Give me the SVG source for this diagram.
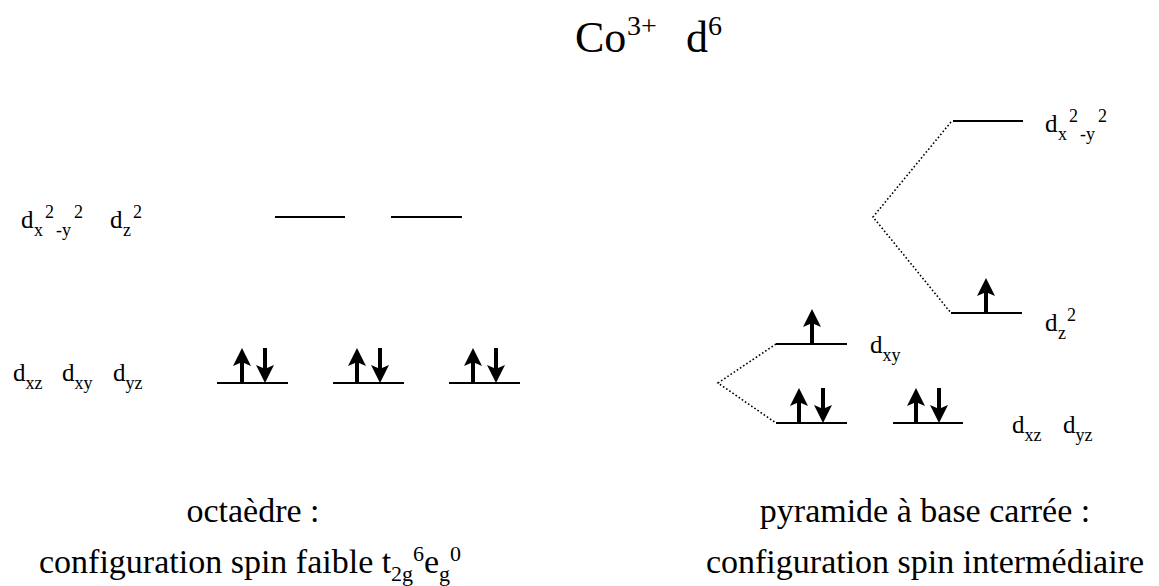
<svg xmlns="http://www.w3.org/2000/svg" width="1159" height="586" viewBox="0 0 1159 586">
<rect width="1159" height="586" fill="#fff"/>

<g id="title">
<text x="575" y="52" font-size="44" font-family="Liberation Serif">Co</text>
<text x="627" y="35" font-size="28" font-family="Liberation Serif">3+</text>
<text x="686" y="52" font-size="44" font-family="Liberation Serif">d</text>
<text x="708" y="35" font-size="28" font-family="Liberation Serif">6</text>
</g>

<g id="connectors" stroke="#000" stroke-width="1.6" stroke-dasharray="1.6 2.2" fill="none">
<polyline points="951,122 873,217 951,313"/>
<polyline points="776,344 718,383 776,423"/>
</g>

<g id="oct-eg-label">
<text x="21" y="228" font-size="25" font-family="Liberation Serif">d</text>
<text x="34" y="236" font-size="18" font-family="Liberation Serif">x</text>
<text x="45" y="218" font-size="18" font-family="Liberation Serif">2</text>
<text x="56" y="236" font-size="18" font-family="Liberation Serif">-y</text>
<text x="74" y="218" font-size="18" font-family="Liberation Serif">2</text>
<text x="110" y="228" font-size="25" font-family="Liberation Serif">d</text>
<text x="123" y="236" font-size="18" font-family="Liberation Serif">z</text>
<text x="133" y="218" font-size="18" font-family="Liberation Serif">2</text>
</g>
<g id="oct-eg-1"><line x1="275" y1="217" x2="345" y2="217" stroke="#000" stroke-width="2"/></g>
<g id="oct-eg-2"><line x1="391" y1="217" x2="462" y2="217" stroke="#000" stroke-width="2"/></g>

<g id="oct-t2g-label">
<text x="13" y="381" font-size="25" font-family="Liberation Serif">d</text>
<text x="25.5" y="389" font-size="18" font-family="Liberation Serif">xz</text>
<text x="62" y="381" font-size="25" font-family="Liberation Serif">d</text>
<text x="74.5" y="389" font-size="18" font-family="Liberation Serif">xy</text>
<text x="113" y="381" font-size="25" font-family="Liberation Serif">d</text>
<text x="125.5" y="389" font-size="18" font-family="Liberation Serif">yz</text>
</g>
<g id="oct-t2g-1">
<line x1="217" y1="383" x2="288" y2="383" stroke="#000" stroke-width="2"/>
<path d="M242,348 L251,366 L244,363 L244,383 L240,383 L240,363 L233,366 Z" fill="#000"/>
<path d="M265,383 L274,365 L267,368 L267,348 L263,348 L263,368 L256,365 Z" fill="#000"/>
</g>
<g id="oct-t2g-2">
<line x1="333" y1="383" x2="404" y2="383" stroke="#000" stroke-width="2"/>
<path d="M357,348 L366,366 L359,363 L359,383 L355,383 L355,363 L348,366 Z" fill="#000"/>
<path d="M380,383 L389,365 L382,368 L382,348 L378,348 L378,368 L371,365 Z" fill="#000"/>
</g>
<g id="oct-t2g-3">
<line x1="449" y1="383" x2="520" y2="383" stroke="#000" stroke-width="2"/>
<path d="M473,348 L482,366 L475,363 L475,383 L471,383 L471,363 L464,366 Z" fill="#000"/>
<path d="M496,383 L505,365 L498,368 L498,348 L494,348 L494,368 L487,365 Z" fill="#000"/>
</g>

<g id="py-dx2y2">
<line x1="953" y1="121" x2="1023" y2="121" stroke="#000" stroke-width="2"/>
<text x="1045" y="132" font-size="25" font-family="Liberation Serif">d</text>
<text x="1058" y="140" font-size="18" font-family="Liberation Serif">x</text>
<text x="1069" y="122" font-size="18" font-family="Liberation Serif">2</text>
<text x="1080" y="140" font-size="18" font-family="Liberation Serif">-y</text>
<text x="1098" y="122" font-size="18" font-family="Liberation Serif">2</text>
</g>
<g id="py-dz2">
<line x1="951" y1="313" x2="1022" y2="313" stroke="#000" stroke-width="2"/>
<path d="M986,278 L995,296 L988,293 L988,313 L984,313 L984,293 L977,296 Z" fill="#000"/>
<text x="1045" y="331" font-size="25" font-family="Liberation Serif">d</text>
<text x="1058" y="339" font-size="18" font-family="Liberation Serif">z</text>
<text x="1067" y="321" font-size="18" font-family="Liberation Serif">2</text>
</g>
<g id="py-dxy">
<line x1="776" y1="344" x2="847" y2="344" stroke="#000" stroke-width="2"/>
<path d="M812,309 L821,327 L814,324 L814,344 L810,344 L810,324 L803,327 Z" fill="#000"/>
<text x="870" y="353" font-size="25" font-family="Liberation Serif">d</text>
<text x="882.5" y="361" font-size="18" font-family="Liberation Serif">xy</text>
</g>
<g id="py-dxz">
<line x1="776" y1="423" x2="847" y2="423" stroke="#000" stroke-width="2"/>
<path d="M799,388 L808,406 L801,403 L801,423 L797,423 L797,403 L790,406 Z" fill="#000"/>
<path d="M823,423 L832,405 L825,408 L825,388 L821,388 L821,408 L814,405 Z" fill="#000"/>
</g>
<g id="py-dyz">
<line x1="893" y1="423" x2="963" y2="423" stroke="#000" stroke-width="2"/>
<path d="M916,388 L925,406 L918,403 L918,423 L914,423 L914,403 L907,406 Z" fill="#000"/>
<path d="M939,423 L948,405 L941,408 L941,388 L937,388 L937,408 L930,405 Z" fill="#000"/>
</g>
<g id="py-t-label">
<text x="1012" y="433" font-size="25" font-family="Liberation Serif">d</text>
<text x="1024.5" y="441" font-size="18" font-family="Liberation Serif">xz</text>
<text x="1063" y="433" font-size="25" font-family="Liberation Serif">d</text>
<text x="1075.5" y="441" font-size="18" font-family="Liberation Serif">yz</text>
</g>

<g id="captions">
<text x="253" y="522" font-size="34" font-family="Liberation Serif" text-anchor="middle">octaèdre :</text>
<text x="39" y="573" font-size="34" font-family="Liberation Serif">configuration spin faible t</text>
<text x="391" y="581" font-size="22" font-family="Liberation Serif">2g</text>
<text x="413" y="561" font-size="22" font-family="Liberation Serif">6</text>
<text x="424" y="573" font-size="34" font-family="Liberation Serif">e</text>
<text x="439" y="581" font-size="22" font-family="Liberation Serif">g</text>
<text x="450" y="561" font-size="22" font-family="Liberation Serif">0</text>
<text x="925" y="522" font-size="34" font-family="Liberation Serif" text-anchor="middle">pyramide à base carrée :</text>
<text x="925" y="573" font-size="34" font-family="Liberation Serif" text-anchor="middle">configuration spin intermédiaire</text>
</g>
</svg>
